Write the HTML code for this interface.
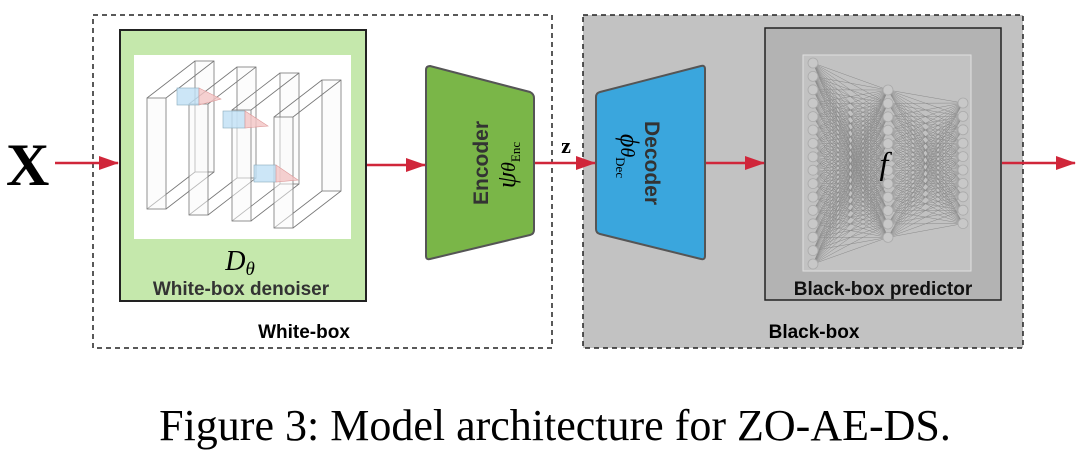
<!DOCTYPE html>
<html><head><meta charset="utf-8"><style>
body{margin:0;background:#fff;width:1080px;height:457px;overflow:hidden;font-family:"Liberation Sans",sans-serif}
</style></head><body>
<svg width="1080" height="457" viewBox="0 0 1080 457" xmlns="http://www.w3.org/2000/svg">
<defs>
<marker id="ar2" markerWidth="20" markerHeight="14" refX="19" refY="7" orient="auto" markerUnits="userSpaceOnUse"><path d="M0,0 L20,7 L0,14 z" fill="#d0263a"/></marker></defs>
<rect x="93" y="15" width="459" height="333" fill="#fff" stroke="#222" stroke-width="1.5" stroke-dasharray="5,4"/>
<rect x="583" y="15" width="440" height="333" fill="#c2c2c2" stroke="#222" stroke-width="1.5" stroke-dasharray="5,4"/>
<text x="304" y="338" font-size="19" font-weight="bold" text-anchor="middle">White-box</text>
<text x="814" y="338" font-size="19" font-weight="bold" text-anchor="middle">Black-box</text>
<!-- green box -->
<rect x="120" y="30" width="246" height="271" fill="#c5e8ac" stroke="#222" stroke-width="2"/>
<rect x="134" y="55" width="217" height="184" fill="#fff"/>
<g id="slabs" fill="none" stroke="#777" stroke-width="0.8"></g>
<g stroke="#8ab" stroke-width="0.6"><rect x="177" y="88" width="22" height="17" fill="#bfe0f5" fill-opacity="0.8"/><rect x="223" y="111" width="22" height="17" fill="#bfe0f5" fill-opacity="0.8"/><rect x="254" y="165" width="22" height="17" fill="#bfe0f5" fill-opacity="0.8"/></g>
<g fill="#f2c4c4" fill-opacity="0.8" stroke="#d99" stroke-width="0.6"><path d="M199,88 L221,99 L199,105Z"/><path d="M245,111 L268,126 L245,128Z"/><path d="M276,165 L298,180 L276,182Z"/></g>
<text x="240" y="270" font-family="Liberation Serif,serif" font-style="italic" font-size="28" text-anchor="middle">D<tspan font-size="19" dy="5">θ</tspan></text>
<text x="241" y="295" font-size="19" font-weight="bold" fill="#333" text-anchor="middle">White-box denoiser</text>
<!-- encoder -->
<path d="M430,66 L530,92 Q534,94 534,98 L534,230 Q534,234 530,235 L430,259 Q426,260 426,256 L426,70 Q426,66 430,66Z" fill="#7ab648" stroke="#555" stroke-width="2"/>
<text transform="translate(488,163) rotate(-90)" font-size="21" font-weight="bold" fill="#333" text-anchor="middle">Encoder</text>
<text transform="translate(515,165) rotate(-90)" font-family="Liberation Serif,serif" font-style="italic" font-size="26" text-anchor="middle">ψ<tspan font-size="20">θ</tspan><tspan font-style="normal" font-size="13" dy="5">Enc</tspan></text>
<!-- decoder -->
<path d="M600,92 L701,66 Q705,65 705,69 L705,256 Q705,260 701,259 L600,234 Q596,233 596,229 L596,97 Q596,93 600,92Z" fill="#3aa6dd" stroke="#555" stroke-width="2"/>
<text transform="translate(645,163) rotate(90)" font-size="21" font-weight="bold" fill="#333" text-anchor="middle">Decoder</text>
<text transform="translate(621,156) rotate(90)" font-family="Liberation Serif,serif" font-style="italic" font-size="26" text-anchor="middle">ϕ<tspan font-size="20">θ</tspan><tspan font-style="normal" font-size="13" dy="5">Dec</tspan></text>
<!-- predictor -->
<rect x="765" y="28" width="236" height="272" fill="#b3b3b3" stroke="#222" stroke-width="1.5"/>
<rect x="803" y="55" width="168" height="216" fill="#c2c2c2" stroke="#e0e0e0" stroke-width="1"/>
<g id="nn" stroke="#8a8a8a" stroke-width="0.5" fill="none"></g>
<text x="884" y="174" font-family="Liberation Serif,serif" font-style="italic" font-size="32" text-anchor="middle">f</text>
<text x="883" y="295" font-size="19" font-weight="bold" fill="#111" text-anchor="middle">Black-box predictor</text>
<!-- arrows -->
<g stroke="#d0263a" stroke-width="2.5">
<line x1="55" y1="163" x2="118" y2="163" marker-end="url(#ar2)"/>
<line x1="367" y1="165" x2="425" y2="165" marker-end="url(#ar2)"/>
<line x1="535" y1="163" x2="595" y2="163" marker-end="url(#ar2)"/>
<line x1="706" y1="163" x2="764" y2="163" marker-end="url(#ar2)"/>
<line x1="1002" y1="163" x2="1075" y2="163" marker-end="url(#ar2)"/>
</g>
<text x="6" y="185" font-family="Liberation Serif,serif" font-weight="bold" font-size="60">X</text>
<text x="566" y="153" font-family="Liberation Serif,serif" font-weight="bold" font-size="22" text-anchor="middle">z</text>
<text x="555" y="440" font-family="Liberation Serif,serif" font-size="44" text-anchor="middle">Figure 3: Model architecture for ZO-AE-DS.</text>
</svg>
<script>
(function(){var s='';
[[147,98],[189,104],[232,110],[274,117]].forEach(function(p){var x=p[0],y=p[1],w=19,h=111,dx=48,dy=-37;
s+='<rect x="'+(x+dx)+'" y="'+(y+dy)+'" width="'+w+'" height="'+h+'" fill="#fafafa" fill-opacity="0.6"/>';
s+='<path d="M'+x+','+y+' L'+(x+dx)+','+(y+dy)+' M'+(x+w)+','+y+' L'+(x+w+dx)+','+(y+dy)+' M'+x+','+(y+h)+' L'+(x+dx)+','+(y+h+dy)+' M'+(x+w)+','+(y+h)+' L'+(x+w+dx)+','+(y+h+dy)+'"/>';
s+='<rect x="'+x+'" y="'+y+'" width="'+w+'" height="'+h+'" fill="#fafafa" fill-opacity="0.5"/>';});
document.getElementById('slabs').innerHTML=s;s='';
var L=[[813,63,16],[888,90,12],[963,103,10]],P=[];
L.forEach(function(l){var a=[];for(var i=0;i<l[2];i++)a.push([l[0],l[1]+i*13.4]);P.push(a);});
for(var k=0;k<2;k++)P[k].forEach(function(p){P[k+1].forEach(function(q){s+='<line x1="'+p[0]+'" y1="'+p[1]+'" x2="'+q[0]+'" y2="'+q[1]+'"/>';});});
P.forEach(function(a){a.forEach(function(p){s+='<circle cx="'+p[0]+'" cy="'+p[1]+'" r="5" fill="#c8c8c8" stroke="#aaa" stroke-width="0.8"/>';});});
document.getElementById('nn').innerHTML=s;})();
</script>
</body></html>
